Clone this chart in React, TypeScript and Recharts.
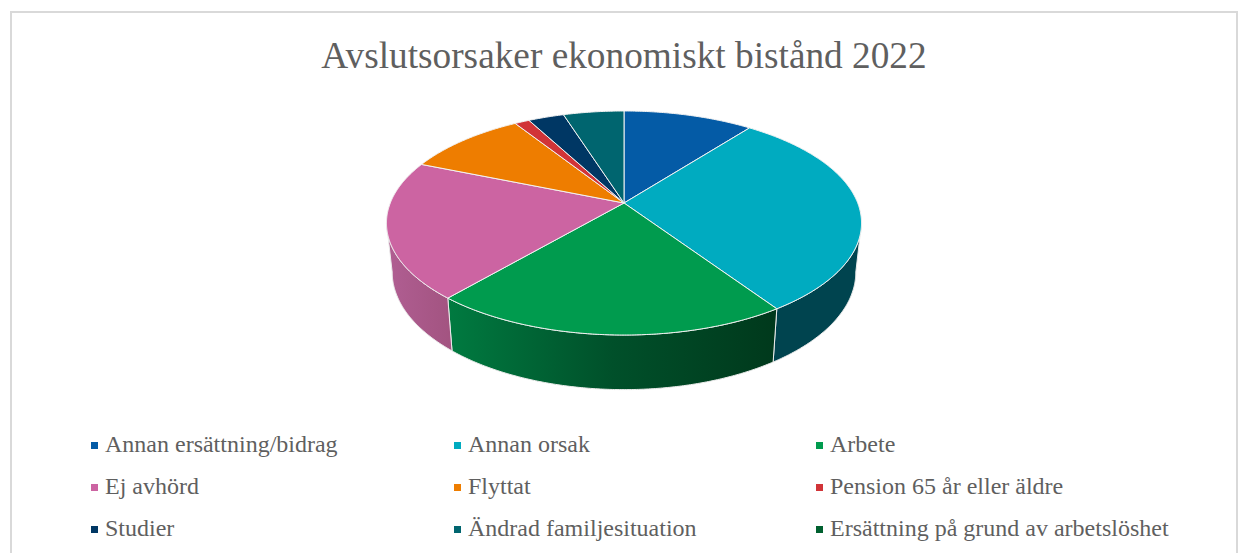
import { Cell, Legend, Pie, PieChart } from "recharts";

const CATEGORIES = [
  "Annan ersättning/bidrag",
  "Annan orsak",
  "Arbete",
  "Ej avhörd",
  "Flyttat",
  "Pension 65 år eller äldre",
  "Studier",
  "Ändrad familjesituation",
  "Ersättning på grund av arbetslöshet",
];
const SHARES = [10.5, 30.1, 20.7, 19.9, 9.8, 1.2, 2.9, 4.9, 0];
const COLORS = [
  "#045ba6", "#00abc0", "#009b4e", "#cc64a2", "#ee7d00",
  "#d13438", "#003764", "#00656f", "#00602f",
];
const WALL_FILLS: Record<string, string> = {
  "Annan orsak": "#00444f",
  Arbete: "url(#wall-green)",
  "Ej avhörd": "url(#wall-pink)",
};

const TITLE = "Avslutsorsaker ekonomiskt bistånd 2022";
const TEXT_COLOR = "#5f5f5f";
const FONT = '"Liberation Serif", "Times New Roman", serif';

const pieData = CATEGORIES.map((name, i) => ({ name, value: SHARES[i] }));

// perspective of the tilted disc: the far rim is squeezed, the near rim stretched
const TILT = 0.1786;
const SQUASH = 0.464;
const DEPTH_OFFSET = 48;
const DEPTH_SCALE = 1.05;
const WALL_FROM = 100.3;
const WALL_TO = 259.7;

function rimPoint(cx: number, cy: number, r: number, deg: number, bottom: boolean) {
  const rad = (deg * Math.PI) / 180;
  const u = Math.sin(rad);
  const v = -Math.cos(rad);
  const w = 1 - TILT * v;
  const dx = (r * u) / w;
  const dy = (r * SQUASH * v) / w;
  if (!bottom) return [cx + dx, cy + dy];
  return [cx + dx * 0.976, cy + DEPTH_OFFSET + dy * DEPTH_SCALE];
}

function arcPoints(cx: number, cy: number, r: number, from: number, to: number, bottom: boolean) {
  const steps = Math.max(2, Math.ceil(Math.abs(to - from) * 2));
  const points: number[][] = [];
  for (let i = 0; i <= steps; i++) {
    points.push(rimPoint(cx, cy, r, from + ((to - from) * i) / steps, bottom));
  }
  return points;
}

const toPath = (points: number[][]) =>
  points.map((p, i) => `${i ? "L" : "M"}${p[0].toFixed(2)} ${p[1].toFixed(2)}`).join(" ");

function Slice3D(props: any) {
  const { cx, cy, outerRadius, startAngle, endAngle, fill, name } = props;
  // recharts angles run counter-clockwise from 3 o'clock
  const from = 90 - startAngle;
  const to = 90 - endAngle;
  if (to - from <= 0) return null;

  const wallFrom = Math.max(from, WALL_FROM);
  const wallTo = Math.min(to, WALL_TO);
  const hasWall = wallTo > wallFrom;

  const top = arcPoints(cx, cy, outerRadius, from, to, false);
  return (
    <g>
      {hasWall && (
        <path
          d={
            toPath([
              ...arcPoints(cx, cy, outerRadius, wallFrom, wallTo, false),
              ...arcPoints(cx, cy, outerRadius, wallTo, wallFrom, true),
            ]) + " Z"
          }
          fill={WALL_FILLS[name] ?? fill}
          stroke="#ececec"
          strokeWidth={1}
        />
      )}
      <path
        d={toPath([[cx, cy], ...top]) + " Z"}
        fill={fill}
        stroke="#f2f2f2"
        strokeWidth={1}
      />
    </g>
  );
}

function LegendGrid({ payload }: any) {
  // keep the data order: CATEGORIES runs row by row through the three columns
  const items = CATEGORIES.map((name) =>
    (payload ?? []).find((entry: any) => entry.value === name),
  ).filter(Boolean);
  return (
    <div
      style={{
        display: "grid",
        gridTemplateColumns: "363px 362px 400px",
        gridAutoRows: "42px",
        fontFamily: FONT,
        fontSize: 24,
        color: TEXT_COLOR,
      }}
    >
      {items.map((entry: any) => (
        <div key={entry.value} style={{ display: "flex", alignItems: "center", height: 42 }}>
          <span
            style={{
              width: 7,
              height: 7,
              marginLeft: 1,
              marginRight: 8,
              background: entry.color,
              flexShrink: 0,
            }}
          />
          <span style={{ whiteSpace: "nowrap", position: "relative", top: -1, left: -1 }}>
            {entry.value}
          </span>
        </div>
      ))}
    </div>
  );
}

export default function App() {
  return (
    <div style={{ position: "absolute", left: 0, top: 0, width: 1242, height: 553, overflow: "hidden", background: "#fff" }}>
      <div
        style={{
          position: "absolute",
          left: 10,
          top: 11,
          width: 1224,
          height: 560,
          border: "2px solid #d9d9d9",
        }}
      />
      <PieChart
        width={1242}
        height={553}
        margin={{ top: 0, right: 0, bottom: 0, left: 0 }}
        style={{ position: "absolute", left: 0, top: 0 }}
      >
        <defs>
          <linearGradient id="wall-green" gradientUnits="userSpaceOnUse" x1="449" y1="0" x2="775" y2="0">
            <stop offset="0%" stopColor="#007a40" />
            <stop offset="50%" stopColor="#00502a" />
            <stop offset="100%" stopColor="#00391c" />
          </linearGradient>
          <linearGradient id="wall-pink" gradientUnits="userSpaceOnUse" x1="388" y1="0" x2="453" y2="0">
            <stop offset="0%" stopColor="#b05e92" />
            <stop offset="100%" stopColor="#a25380" />
          </linearGradient>
        </defs>
        <text
          x={624}
          y={68}
          textAnchor="middle"
          fontFamily={FONT}
          fontSize={37.3}
          fill={TEXT_COLOR}
        >
          {TITLE}
        </text>
        <Pie
          data={pieData}
          dataKey="value"
          nameKey="name"
          cx={624}
          cy={203}
          innerRadius={0}
          outerRadius={233.7}
          startAngle={90}
          endAngle={-270}
          paddingAngle={0}
          label={false}
          labelLine={false}
          shape={Slice3D}
          isAnimationActive={false}
        >
          {pieData.map((entry, index) => (
            <Cell key={entry.name} fill={COLORS[index]} />
          ))}
        </Pie>
        <Legend
          content={<LegendGrid />}
          wrapperStyle={{ position: "absolute", left: 90, top: 424, width: 1130, bottom: "auto" }}
        />
      </PieChart>
    </div>
  );
}
